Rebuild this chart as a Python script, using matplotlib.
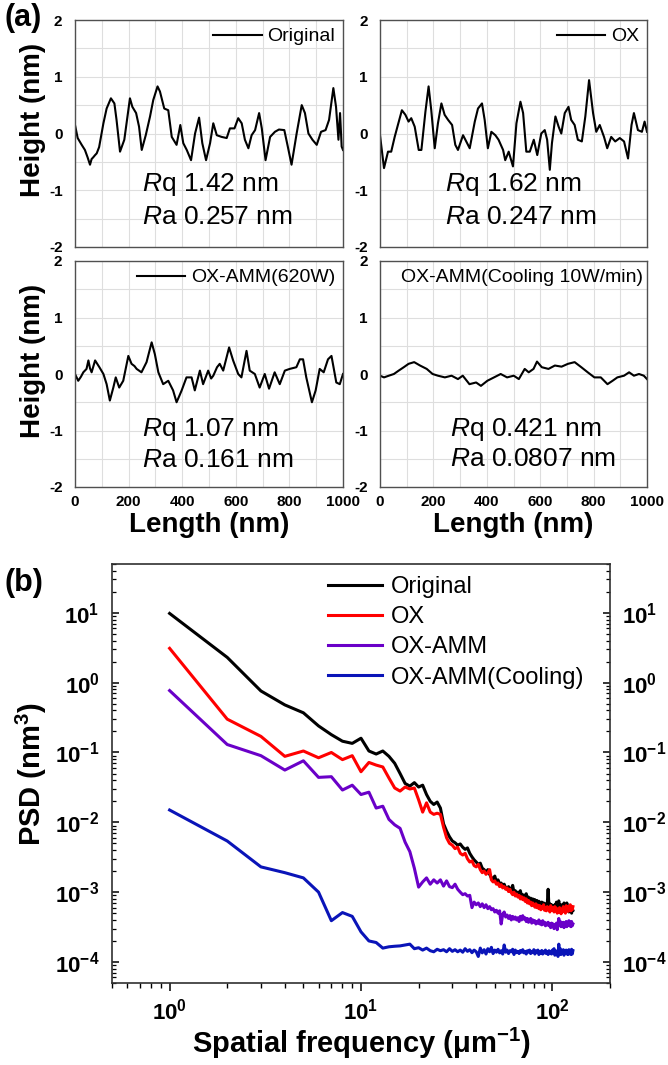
import numpy as np
import matplotlib.pyplot as plt
from matplotlib.ticker import LogLocator, NullFormatter

plt.rcParams['font.family'] = ['Liberation Sans', 'DejaVu Sans']
plt.rcParams['font.sans-serif'] = ['Liberation Sans', 'DejaVu Sans']
plt.rcParams['font.weight'] = 'bold'
plt.rcParams['mathtext.fontset'] = 'custom'
plt.rcParams['mathtext.default'] = 'regular'
plt.rcParams['mathtext.rm'] = 'Liberation Sans'
plt.rcParams['mathtext.it'] = 'Liberation Sans:style=italic:weight=normal'
plt.rcParams['axes.unicode_minus'] = False

# ---- (a) height profiles, x in nm, height in nm ----
x_orig = [0, 10, 25, 37, 47, 56, 62, 68, 75, 81, 90, 106, 118, 134, 147, 155, 168, 184, 205, 214,
          228, 239, 249, 264, 280, 292, 308, 317, 333, 348, 361, 379, 393, 404, 417, 433, 448, 463,
          475, 489, 504, 516, 529, 547, 566, 578, 595, 609, 622, 634, 647, 659, 672, 687, 697, 711,
          728, 746, 761, 781, 794, 808, 827, 846, 858, 871, 886, 902, 918, 935, 948, 964, 974, 983,
          989, 995, 1000]
h_orig = [0.15, -0.08, -0.2, -0.29, -0.42, -0.55, -0.45, -0.42, -0.38, -0.35, -0.24, 0.18, 0.44,
          0.62, 0.53, 0.24, -0.32, -0.11, 0.62, 0.47, 0.36, 0.12, -0.29, -0.03, 0.3, 0.59, 0.83,
          0.74, 0.44, 0.41, -0.06, -0.2, 0.15, -0.17, -0.29, -0.47, 0.0, 0.28, -0.17, -0.47, -0.17,
          0.18, -0.03, -0.06, -0.08, 0.09, 0.09, 0.27, 0.18, -0.11, -0.26, -0.03, 0.06, 0.36, 0.09,
          -0.47, -0.06, 0.03, 0.07, 0.06, -0.23, -0.55, 0.0, 0.5, 0.36, 0.0, -0.11, -0.2, 0.03, 0.06,
          0.24, 0.8, 0.47, -0.11, 0.36, -0.23, -0.29]

x_ox = [0, 15, 30, 42, 55, 67, 82, 95, 107, 117, 130, 145, 155, 170, 182, 192, 205, 217, 230, 242,
        255, 270, 282, 292, 311, 323, 336, 355, 367, 382, 392, 404, 417, 432, 444, 461, 469, 482,
        498, 511, 526, 536, 548, 561, 576, 589, 604, 617, 626, 636, 644, 657, 669, 679, 692, 706,
        716, 729, 741, 756, 769, 783, 798, 810, 823, 839, 851, 866, 881, 898, 914, 929, 942, 951,
        966, 981, 991, 1000]
h_ox = [-0.03, -0.61, -0.32, -0.32, -0.06, 0.15, 0.41, 0.33, 0.21, 0.27, 0.12, -0.29, -0.29, 0.38,
        0.83, 0.41, -0.26, 0.18, 0.53, 0.33, 0.24, 0.15, -0.2, -0.29, -0.03, -0.14, -0.26, 0.21,
        0.44, 0.53, 0.24, -0.26, 0.03, -0.03, -0.11, -0.29, -0.47, -0.32, -0.58, 0.18, 0.56, 0.36,
        -0.32, -0.32, -0.11, -0.38, 0.0, 0.06, -0.11, -0.64, -0.17, 0.3, 0.12, 0.0, 0.36, 0.47, 0.24,
        0.15, -0.11, -0.14, 0.3, 0.94, 0.36, 0.03, 0.15, -0.06, -0.26, -0.06, -0.14, -0.08, -0.14,
        -0.44, 0.15, 0.36, 0.06, 0.03, 0.21, 0.03]

x_amm = [0, 12, 22, 31, 43, 50, 56, 62, 75, 91, 106, 118, 130, 143, 152, 165, 180, 199, 211, 222,
         230, 248, 267, 286, 298, 311, 329, 348, 366, 379, 390, 398, 416, 435, 447, 466, 478, 497,
         508, 516, 530, 540, 553, 575, 590, 609, 621, 640, 652, 671, 689, 708, 724, 745, 764, 783,
         801, 826, 839, 851, 863, 884, 898, 913, 928, 944, 957, 975, 988, 1000]
h_amm = [0.0, -0.12, -0.05, 0.03, 0.09, 0.24, 0.1, 0.03, 0.24, 0.12, 0.0, -0.18, -0.47, -0.24,
         -0.06, -0.24, -0.12, 0.32, 0.18, 0.14, 0.09, 0.03, 0.21, 0.56, 0.35, 0.03, -0.18, -0.12,
         -0.29, -0.5, -0.38, -0.29, -0.06, -0.06, -0.29, 0.06, -0.18, 0.06, -0.08, -0.03, 0.12, 0.18,
         0.06, 0.47, 0.24, 0.0, -0.06, 0.41, 0.06, 0.0, -0.24, 0.0, -0.26, 0.03, -0.18, 0.06, 0.09,
         0.12, 0.26, 0.26, -0.06, -0.5, -0.29, 0.09, 0.03, 0.26, 0.32, -0.15, -0.18, 0.0]

x_cool = [0, 15, 33, 52, 70, 89, 107, 128, 150, 175, 197, 217, 243, 268, 292, 310, 335, 360, 378,
          402, 427, 452, 476, 501, 520, 542, 557, 575, 588, 606, 631, 655, 680, 704, 729, 754, 778,
          803, 827, 852, 871, 889, 914, 933, 951, 970, 988, 1000]
h_cool = [-0.03, -0.06, -0.03, 0.0, 0.06, 0.12, 0.18, 0.21, 0.15, 0.09, 0.0, -0.03, -0.06, -0.03,
          -0.09, -0.03, -0.18, -0.15, -0.21, -0.12, -0.06, 0.0, -0.06, -0.03, -0.09, 0.09, 0.03,
          0.09, 0.22, 0.12, 0.09, 0.15, 0.13, 0.18, 0.21, 0.12, 0.03, -0.06, -0.06, -0.18, -0.12,
          -0.06, -0.03, 0.03, -0.03, 0.0, -0.03, -0.09]

profile_labels = ['Original', 'OX', 'OX-AMM(620W)', 'OX-AMM(Cooling 10W/min)']
rq_values = ['1.42', '1.62', '1.07', '0.421']
ra_values = ['0.257', '0.247', '0.161', '0.0807']

# ---- (b) PSD, spatial frequency in um^-1, PSD in nm^3 ----
freq = np.arange(1, 129)
psd_orig = [9.8, 2.3, 0.76, 0.48, 0.37, 0.24, 0.18, 0.145, 0.135, 0.16,
            0.105, 0.095, 0.105, 0.088, 0.07, 0.05, 0.036, 0.033, 0.037, 0.032,
            0.034, 0.025, 0.02, 0.018, 0.0195, 0.016, 0.0095, 0.0075, 0.0062, 0.0054,
            0.0051, 0.0047, 0.0049, 0.0044, 0.0041, 0.0043, 0.0036, 0.0032, 0.0029, 0.0027,
            0.0025, 0.0026, 0.0022, 0.0021, 0.0019, 0.0021, 0.0018, 0.0016, 0.00155, 0.0017,
            0.0014, 0.0015, 0.0013, 0.00135, 0.0012, 0.0013, 0.00115, 0.0011, 0.0012, 0.00105,
            0.0011, 0.00125, 0.001, 0.00105, 0.00095, 0.001, 0.0009, 0.00105, 0.00088, 0.00092,
            0.00082, 0.0009, 0.00095, 0.0008, 0.00085, 0.00078, 0.00082, 0.00075, 0.0008, 0.00072,
            0.00078, 0.0007, 0.00076, 0.00068, 0.00074, 0.0007, 0.00066, 0.00072, 0.00064, 0.0007,
            0.00065, 0.00068, 0.0006, 0.00066, 0.0011, 0.0006, 0.00068, 0.00062, 0.00066, 0.0006,
            0.00064, 0.00058, 0.00066, 0.0006, 0.00072, 0.0006, 0.00065, 0.00075, 0.00062, 0.00058,
            0.00066, 0.0006, 0.00063, 0.00056, 0.0007, 0.00058, 0.00062, 0.00055, 0.0007, 0.00056,
            0.0006, 0.00052, 0.00058, 0.00054, 0.00062, 0.0005, 0.00058, 0.00055]
psd_ox = [3.1, 0.30, 0.17, 0.088, 0.105, 0.084, 0.1, 0.079, 0.09, 0.053,
          0.072, 0.066, 0.062, 0.043, 0.031, 0.028, 0.032, 0.03, 0.031, 0.021,
          0.014, 0.019, 0.014, 0.013, 0.0135, 0.013, 0.0085, 0.006, 0.005, 0.0047,
          0.0042, 0.0044, 0.0036, 0.0034, 0.0036, 0.003, 0.0027, 0.0028, 0.0024, 0.0023,
          0.0025, 0.0021, 0.0019, 0.002, 0.0018, 0.0019, 0.0021, 0.0015, 0.0014, 0.00145,
          0.0013, 0.00135, 0.0012, 0.00128, 0.00115, 0.0012, 0.0011, 0.00115, 0.00102, 0.0011,
          0.00098, 0.00092, 0.001, 0.00088, 0.00094, 0.00085, 0.0009, 0.0008, 0.00086, 0.00078,
          0.00083, 0.00074, 0.0008, 0.0007, 0.00076, 0.00068, 0.00072, 0.00064, 0.0007, 0.00066,
          0.00061, 0.00068, 0.0006, 0.00065, 0.00058, 0.00064, 0.00056, 0.00062, 0.00058, 0.00066,
          0.00055, 0.0006, 0.00054, 0.00062, 0.00056, 0.0006, 0.00052, 0.00064, 0.00055, 0.0006,
          0.00058, 0.00052, 0.00062, 0.00055, 0.00059, 0.0005, 0.00056, 0.00052, 0.0006, 0.00054,
          0.00049, 0.00057, 0.00052, 0.00062, 0.00054, 0.00058, 0.0005, 0.00064, 0.00056, 0.00062,
          0.00053, 0.0006, 0.00056, 0.00066, 0.00054, 0.0006, 0.00056, 0.00062]
psd_amm = [0.77, 0.13, 0.09, 0.056, 0.076, 0.044, 0.045, 0.029, 0.034, 0.025,
           0.027, 0.016, 0.017, 0.011, 0.0092, 0.0082, 0.0052, 0.0038, 0.0022, 0.00118,
           0.0014, 0.0016, 0.0013, 0.0015, 0.00135, 0.0015, 0.00122, 0.00145, 0.0012, 0.00116,
           0.0013, 0.0011, 0.001, 0.00092, 0.00095, 0.00088, 0.0009, 0.0006, 0.00072, 0.00066,
           0.0007, 0.00062, 0.00068, 0.0006, 0.00066, 0.00058, 0.00062, 0.00056, 0.00058, 0.00052,
           0.00055, 0.0005, 0.00054, 0.00035, 0.00048, 0.00052, 0.00044, 0.00047, 0.00042, 0.00046,
           0.0004, 0.00045, 0.00041, 0.00044, 0.0004, 0.00043, 0.00038, 0.00045, 0.0004, 0.00046,
           0.00041, 0.00043, 0.00038, 0.00042, 0.00037, 0.0004, 0.00042, 0.00036, 0.0004, 0.00037,
           0.00039, 0.00035, 0.00038, 0.00036, 0.0004, 0.00035, 0.00038, 0.00034, 0.00039, 0.00035,
           0.00037, 0.00033, 0.00036, 0.00034, 0.00037, 0.00033, 0.00035, 0.00031, 0.00036, 0.00033,
           0.00035, 0.0003, 0.00034, 0.00032, 0.00036, 0.00029, 0.00034, 0.00042, 0.00035, 0.00038,
           0.00032, 0.00036, 0.00033, 0.00037, 0.00031, 0.00035, 0.00033, 0.00038, 0.00032, 0.00036,
           0.00034, 0.00039, 0.00033, 0.00037, 0.00032, 0.00038, 0.00033, 0.00035]
psd_cool = [0.015, 0.0054, 0.0023, 0.0019, 0.0016, 0.001, 0.00039, 0.00051, 0.00045, 0.00027,
            0.0002, 0.00019, 0.000158, 0.000165, 0.000168, 0.00017, 0.000175, 0.00018, 0.000155, 0.00016,
            0.000148, 0.000158, 0.000145, 0.00014, 0.000152, 0.000145, 0.00015, 0.00014, 0.000155, 0.000142,
            0.00015, 0.00014, 0.000148, 0.000138, 0.000155, 0.000142, 0.00015, 0.000136, 0.000148, 0.00014,
            0.00012, 0.000158, 0.000135, 0.00015, 0.00013, 0.000155, 0.00014, 0.000162, 0.000132, 0.000148,
            0.000138, 0.000152, 0.000135, 0.000145, 0.00013, 0.000175, 0.000138, 0.000148, 0.000132, 0.000145,
            0.00014, 0.000152, 0.000128, 0.000148, 0.000136, 0.000142, 0.000132, 0.000146, 0.000138, 0.00015,
            0.000135, 0.000142, 0.00013, 0.000145, 0.000138, 0.000148, 0.000132, 0.000142, 0.000136, 0.00015,
            0.00013, 0.000144, 0.000136, 0.000148, 0.000128, 0.00014, 0.000134, 0.000146, 0.00013, 0.000142,
            0.000135, 0.000148, 0.000132, 0.00014, 0.000128, 0.000145, 0.000135, 0.000142, 0.00013, 0.000148,
            0.000136, 0.000155, 0.000125, 0.000145, 0.000133, 0.00014, 0.00012, 0.00018, 0.00013, 0.000155,
            0.000128, 0.000145, 0.000135, 0.00015, 0.000125, 0.000142, 0.000132, 0.000148, 0.00013, 0.000145,
            0.000128, 0.00015, 0.000135, 0.000142, 0.000128, 0.000152, 0.00013, 0.000145]
psd_labels = ['Original', 'OX', 'OX-AMM', 'OX-AMM(Cooling)']
psd_colors = ['#000000', '#ff0000', '#6a00c8', '#0a14b8']

W, H = 668, 1065
fig = plt.figure(figsize=(W / 100, H / 100), dpi=100)


def px_axes(x0, y0, x1, y1):
    return fig.add_axes([x0 / W, 1 - y1 / H, (x1 - x0) / W, (y1 - y0) / H])


ax_tl = px_axes(75, 20, 343, 247)
ax_tr = px_axes(380, 20, 647, 247)
ax_bl = px_axes(75, 261, 343, 487)
ax_br = px_axes(380, 261, 647, 487)

panels = [(ax_tl, x_orig, h_orig, 250, -0.9, -1.47, False),
          (ax_tr, x_ox, h_ox, 243, -0.9, -1.47, False),
          (ax_bl, x_amm, h_amm, 250, -0.99, -1.52, True),
          (ax_br, x_cool, h_cool, 262, -0.99, -1.5, True)]

for i, (ax, x, h, tx, ty1, ty2, bottom) in enumerate(panels):
    ax.plot(x, h, color='black', lw=1.5, label=profile_labels[i])
    ax.set_xlim(0, 1000)
    ax.set_ylim(-2, 2)
    ax.set_xticks(range(0, 1001, 200))
    ax.set_xticks(range(100, 1000, 200), minor=True)
    ax.set_yticks([-2, -1, 0, 1, 2])
    ax.set_yticks([-1.5, -0.5, 0.5, 1.5], minor=True)
    ax.grid(True, which='both', color='#dedede', lw=0.8)
    ax.set_axisbelow(True)
    ax.tick_params(which='both', length=0, labelsize=11, pad=9)
    ax.tick_params(axis='x', pad=6)
    if not bottom:
        ax.set_xticklabels([])
    for s in ax.spines.values():
        s.set_color('#505050')
        s.set_linewidth(1.0)
    ax.text(tx, ty1, r'$\mathit{R}$q ' + rq_values[i] + ' nm', fontsize=19,
            fontweight='normal', va='center', ha='left')
    ax.text(tx, ty2, r'$\mathit{R}$a ' + ra_values[i] + ' nm', fontsize=19,
            fontweight='normal', va='center', ha='left')
    if i < 3:
        ax.legend(loc='upper right', frameon=False, handlelength=2.5, handletextpad=0.3,
                  borderaxespad=0.1, borderpad=0.3,
                  prop={'size': 14, 'weight': 'normal'})
    else:
        ax.text(0.985, 0.925, profile_labels[i], transform=ax.transAxes, ha='right',
                va='center', fontsize=14, fontweight='normal')

fig.text(33 / W, 1 - 120 / H, 'Height (nm)', rotation=90, ha='center', va='center', fontsize=20)
fig.text(33 / W, 1 - 361 / H, 'Height (nm)', rotation=90, ha='center', va='center', fontsize=20)
fig.text(209 / W, 1 - 525 / H, 'Length (nm)', ha='center', va='center', fontsize=20)
fig.text(513 / W, 1 - 525 / H, 'Length (nm)', ha='center', va='center', fontsize=20)
fig.text(4 / W, 1 - 18 / H, '(a)', ha='left', va='center', fontsize=22)
fig.text(4 / W, 1 - 583 / H, '(b)', ha='left', va='center', fontsize=22)

# ---- (b) ----
axb = px_axes(112, 564, 610, 983)
for series, lab, col in zip([psd_orig, psd_ox, psd_amm, psd_cool], psd_labels, psd_colors):
    axb.plot(freq, series, color=col, lw=2.2, label=lab)
axb.set_xscale('log')
axb.set_yscale('log')
axb.set_xlim(0.5, 200)
axb.set_ylim(5e-5, 50)
axb.set_xticks([1, 10, 100])
axb.set_yticks([1e-4, 1e-3, 1e-2, 1e-1, 1, 10])
axb.xaxis.set_minor_locator(LogLocator(base=10, subs=np.arange(2, 10), numticks=50))
axb.yaxis.set_minor_locator(LogLocator(base=10, subs=np.arange(2, 10), numticks=50))
axb.xaxis.set_minor_formatter(NullFormatter())
axb.yaxis.set_minor_formatter(NullFormatter())
axb.tick_params(axis='x', which='major', direction='out', length=6, width=1.1, labelsize=16, pad=5,
                top=False)
axb.tick_params(axis='x', which='minor', direction='out', length=3.5, width=1.0, top=False)
axb.tick_params(axis='y', which='major', direction='in', length=5, width=1.1, labelsize=16, pad=9,
                left=True, right=True, labelleft=True, labelright=True)
axb.tick_params(axis='y', which='minor', direction='in', length=3, width=0.9, left=True, right=True)
for s in axb.spines.values():
    s.set_color('#303030')
    s.set_linewidth(1.2)
axb.set_xlabel('Spatial frequency (\u03bcm$^{-1}$)', fontsize=21, fontweight='bold', labelpad=1)
axb.set_ylabel('PSD (nm$^{3}$)', fontsize=21, fontweight='bold', labelpad=4)
axb.legend(loc='upper left', bbox_to_anchor=(0.41, 1.0), frameon=False, borderpad=0,
           handlelength=2.3, handletextpad=0.35, labelspacing=0.35,
           prop={'size': 17, 'weight': 'normal'})

fig.savefig('out.png', dpi=100)
plt.close(fig)
